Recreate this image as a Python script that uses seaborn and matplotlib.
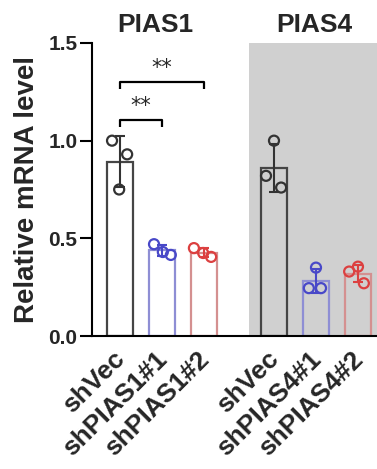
import matplotlib
matplotlib.use("Agg")
import matplotlib.pyplot as plt
import matplotlib.transforms as mtransforms
import numpy as np
import pandas as pd
import seaborn as sns

# data
groups = ["PIAS1", "PIAS4"]
labels = ["shVec", "shPIAS1#1", "shPIAS1#2", "shVec", "shPIAS4#1", "shPIAS4#2"]
replicates = [
    [1.00, 0.93, 0.75],
    [0.47, 0.43, 0.415],
    [0.45, 0.425, 0.405],
    [1.00, 0.82, 0.76],
    [0.35, 0.245, 0.245],
    [0.355, 0.33, 0.27],
]
# horizontal scatter of the replicate dots (fraction of bar spacing)
jitter = [
    [-0.19, 0.17, -0.02],
    [-0.19, 0.02, 0.21],
    [-0.24, -0.02, 0.17],
    [0.0, -0.19, 0.17],
    [0.0, -0.17, 0.12],
    [0.0, -0.21, 0.14],
]
# significance brackets: (bar a, bar b, height, text)
sig = [(0, 1, 1.107, "**"), (0, 2, 1.30, "**")]

edge_colors = ["#454545", "#8e8ed4", "#d49090"] * 2
dot_colors = ["#333333", "#4848c8", "#dc4040"] * 2
shade = "#d0d0d0"

group_gap = 0.667
pos = [i + group_gap * (i // 3) for i in range(len(labels))]

rows = []
for i, vals in enumerate(replicates):
    for v, j in zip(vals, jitter[i]):
        rows.append({"bar": i, "pos": pos[i], "xj": pos[i] + j, "value": v})
df = pd.DataFrame(rows)
stats = df.groupby("bar")["value"].agg(["mean", "std"])

sns.set_style("ticks")
plt.rcParams["font.family"] = ["Liberation Sans", "DejaVu Sans"]

fig = plt.figure(figsize=(3.77, 4.69), dpi=100)
ax = fig.add_axes([92 / 377, 133 / 469, 285 / 377, 293 / 469])

# grey background behind the second group
ax.axvspan(pos[3] - 0.6, pos[5] + 2, color=shade, lw=0, zorder=0)

sns.barplot(data=df, x="pos", y="value", hue="bar", native_scale=True, dodge=False,
            fill=False, errorbar=None, width=0.6, linewidth=1.6,
            palette=dict(enumerate(edge_colors)), legend=False, ax=ax, zorder=2)

for i in range(len(labels)):
    ax.errorbar(pos[i], stats.loc[i, "mean"], yerr=stats.loc[i, "std"], fmt="none",
                ecolor=dot_colors[i], elinewidth=1.5, capsize=3.6, capthick=1.5, zorder=3)
    sub = df[df["bar"] == i]
    sns.scatterplot(x=sub["xj"], y=sub["value"], ax=ax, s=52, marker="o",
                    facecolors="none", edgecolor=dot_colors[i], linewidth=1.6,
                    zorder=4, clip_on=False)

# brackets
tick = 0.036
for a, b, h, txt in sig:
    ax.plot([pos[a], pos[a], pos[b], pos[b]], [h - tick, h, h, h - tick],
            color="black", lw=1.6, solid_capstyle="butt", zorder=5)
    ax.text((pos[a] + pos[b]) / 2, h + 0.02, txt, ha="center", va="bottom",
            fontsize=15, family="DejaVu Sans", zorder=5)

# group titles
for g, title in enumerate(groups):
    ax.text(pos[3 * g + 1] - (0.15 if g == 0 else 0.05), 1.53, title, ha="center", va="bottom",
            fontsize=19, fontweight="bold", clip_on=False)

ax.set_xlim(pos[0] - 0.667, pos[0] + 6.12)
ax.set_ylim(0, 1.5)
ax.set_yticks([0, 0.5, 1.0, 1.5])
ax.set_yticklabels(["0.0", "0.5", "1.0", "1.5"], fontsize=15, fontweight="bold")
ax.tick_params(axis="y", length=8.5, width=1.5, pad=2, color="black")

ax.set_xticks(pos)
ax.set_xticklabels(labels, rotation=45, ha="right", rotation_mode="anchor",
                   fontsize=19, fontweight="bold")
ax.tick_params(axis="x", which="major", length=0, pad=8)
shift = mtransforms.ScaledTranslation(-7 / 100, 0, fig.dpi_scale_trans)
for lab in ax.get_xticklabels():
    lab.set_transform(lab.get_transform() + shift)
ax.set_xticks([pos[1], pos[4]], minor=True)
ax.tick_params(axis="x", which="minor", length=7, width=1.5, color="black")

ax.set_xlabel("")
ax.set_ylabel("Relative mRNA level", fontsize=20, fontweight="bold", labelpad=6)

sns.despine(ax=ax)
for s in ["left", "bottom"]:
    ax.spines[s].set_linewidth(1.5)
    ax.spines[s].set_color("black")
ax.spines["bottom"].set_zorder(6)

fig.savefig("out.png", dpi=100)
